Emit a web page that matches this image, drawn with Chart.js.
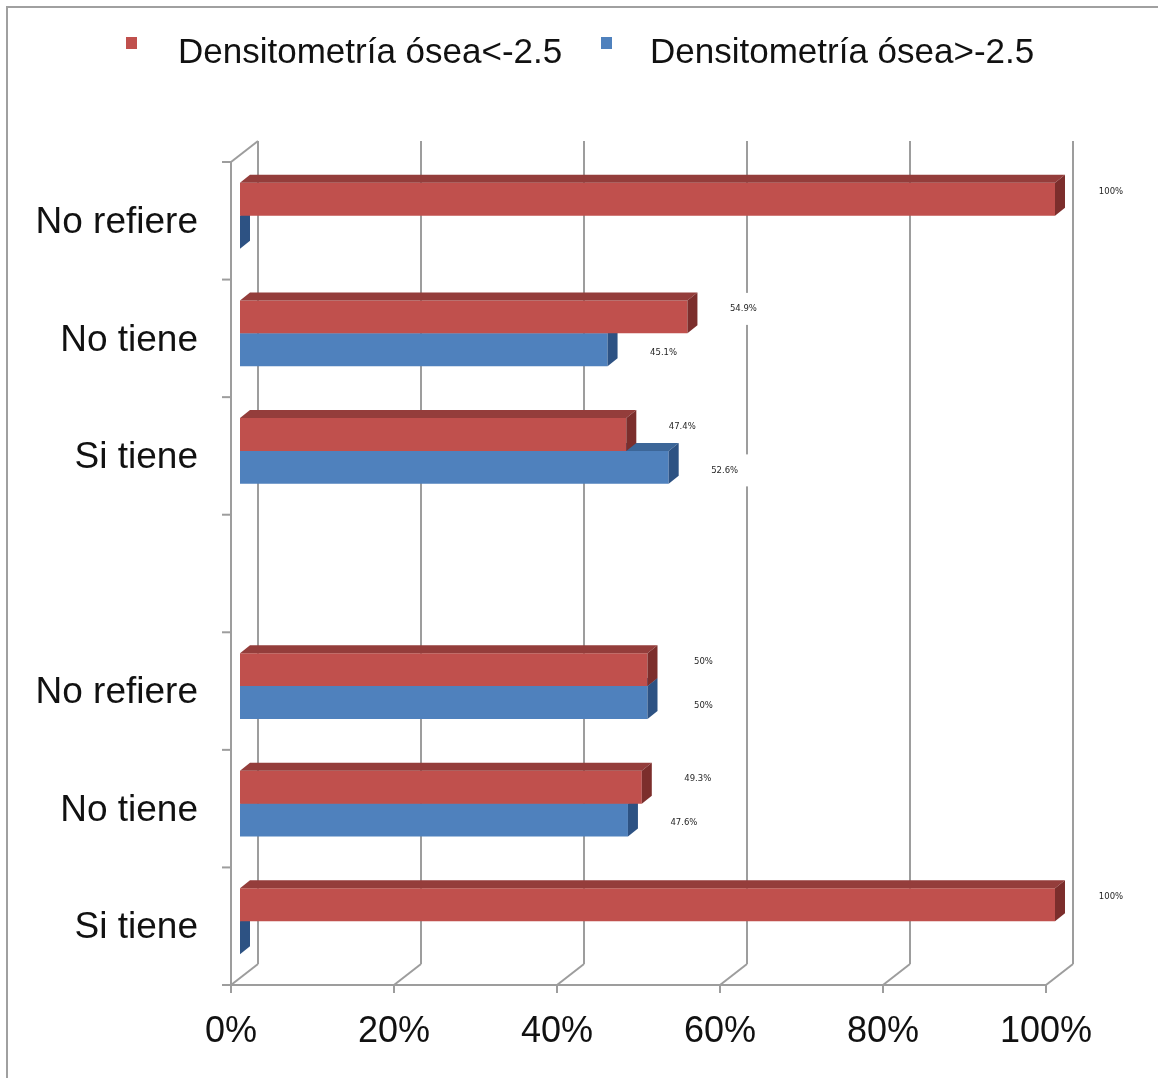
<!DOCTYPE html>
<html>
<head>
<meta charset="utf-8">
<script src="https://cdn.jsdelivr.net/npm/chart.js@4.4.1/dist/chart.umd.min.js"></script>
<style>
  html, body { margin: 0; padding: 0; background: #ffffff; overflow: hidden; }
  canvas { display: block; }
</style>
</head>
<body>
<canvas id="chart" width="1158" height="1078"></canvas>
<script>
// Categories (top to bottom); the empty entry leaves a gap between the two groups
const categories = ['No refiere', 'No tiene', 'Si tiene', '', 'No refiere', 'No tiene', 'Si tiene'];
const seriesNames = ['Densitometría ósea<-2.5', 'Densitometría ósea>-2.5'];
const lowDensity = [100, 54.9, 47.4, null, 50, 49.3, 100];
const highDensity = [0, 45.1, 52.6, null, 50, 47.6, 0];
const xTickValues = [0, 20, 40, 60, 80, 100];

// Face colours for the extruded bars: front, top, side
const palette = [
  { front: '#C0504D', top: '#943D3B', side: '#7C2E2C' },
  { front: '#4F81BD', top: '#3C6698', side: '#2D5283' }
];

// Projection offsets of the pseudo-3D box
const BAR_DX = 10, BAR_DY = -8;      // bar depth
const FRONT_DX = -9, FRONT_DY = 5;   // front edge of floor / left wall
const BACK_DX = 18, BACK_DY = -16;   // back wall
const GRID_COLOR = '#9d9d9d';

const pct = v => String(v) + '%';

function strokeLine(ctx, x1, y1, x2, y2) {
  ctx.beginPath();
  ctx.moveTo(x1, y1);
  ctx.lineTo(x2, y2);
  ctx.stroke();
}

// Walls, floor and grid of the 3D frame
const framePlugin = {
  id: 'frame3d',
  beforeDatasetsDraw(chart) {
    const { ctx, chartArea: a, scales: { x } } = chart;
    ctx.save();
    ctx.strokeStyle = GRID_COLOR;
    ctx.lineWidth = 2;
    const floorY = a.bottom + FRONT_DY;
    const backBottom = a.bottom + BACK_DY;
    const backTop = a.top + BACK_DY;
    xTickValues.forEach(v => {
      const px = x.getPixelForValue(v);
      const xb = px + BACK_DX, xf = px + FRONT_DX;
      strokeLine(ctx, xb, backTop, xb, backBottom);
      strokeLine(ctx, xb, backBottom, xf, floorY);
      strokeLine(ctx, xf, floorY, xf, floorY + 8);
    });
    const x0 = x.getPixelForValue(0) + FRONT_DX;
    const x100 = x.getPixelForValue(100) + FRONT_DX;
    // floor front edge
    strokeLine(ctx, x0 - 9, floorY, x100, floorY);
    // left wall
    strokeLine(ctx, x0, a.top + FRONT_DY, x0, floorY);
    strokeLine(ctx, x0, a.top + FRONT_DY, x.getPixelForValue(0) + BACK_DX, backTop);
    const step = (a.bottom - a.top) / categories.length;
    for (let k = 0; k <= categories.length; k++) {
      const yy = a.top + k * step + FRONT_DY;
      strokeLine(ctx, x0 - 9, yy, x0, yy);
    }
    ctx.restore();
  }
};

// Top and side faces of each bar
const barFacesPlugin = {
  id: 'barFaces',
  afterDatasetDraw(chart, args) {
    const { ctx } = chart;
    const colors = palette[args.index];
    ctx.save();
    args.meta.data.forEach((bar, i) => {
      const value = chart.data.datasets[args.index].data[i];
      if (value === null || value === undefined) return;
      const p = bar.getProps(['x', 'y', 'base', 'height'], true);
      const top = p.y - p.height / 2, bottom = p.y + p.height / 2;
      const x0 = p.base, x1 = p.x;
      ctx.fillStyle = colors.top;
      ctx.beginPath();
      ctx.moveTo(x0, top);
      ctx.lineTo(x0 + BAR_DX, top + BAR_DY);
      ctx.lineTo(x1 + BAR_DX, top + BAR_DY);
      ctx.lineTo(x1, top);
      ctx.closePath();
      ctx.fill();
      ctx.fillStyle = colors.side;
      ctx.beginPath();
      ctx.moveTo(x1, top);
      ctx.lineTo(x1 + BAR_DX, top + BAR_DY);
      ctx.lineTo(x1 + BAR_DX, bottom + BAR_DY);
      ctx.lineTo(x1, bottom);
      ctx.closePath();
      ctx.fill();
    });
    ctx.restore();
  }
};

// Value labels on white plates, legend and outer border
const labelsPlugin = {
  id: 'valueLabels',
  afterDatasetsDraw(chart) {
    const { ctx } = chart;
    ctx.save();
    ctx.font = '8.5px "DejaVu Sans"';
    ctx.textAlign = 'center';
    ctx.textBaseline = 'middle';
    chart.data.datasets.forEach((ds, di) => {
      const meta = chart.getDatasetMeta(di);
      meta.data.forEach((bar, i) => {
        const v = ds.data[i];
        if (!v) return;
        const p = bar.getProps(['x', 'y'], true);
        const cx = p.x + 56;
        const cy = p.y + (di === 0 ? -8 : 3);
        const text = pct(v);
        const w = ctx.measureText(text).width + 30;
        ctx.fillStyle = '#ffffff';
        ctx.fillRect(cx - w / 2, cy - 16, w, 32);
        ctx.fillStyle = '#262626';
        ctx.fillText(text, cx, cy);
      });
    });
    ctx.restore();
  },
  afterDraw(chart) {
    const { ctx } = chart;
    ctx.save();
    // outer border (partly outside the canvas)
    ctx.strokeStyle = '#a0a0a0';
    ctx.lineWidth = 2;
    ctx.beginPath();
    ctx.moveTo(7, 1078);
    ctx.lineTo(7, 7);
    ctx.lineTo(1158, 7);
    ctx.stroke();
    // legend
    const items = [{ box: 126, text: 178 }, { box: 601, text: 650 }];
    ctx.font = '35px "Liberation Sans", Arial, sans-serif';
    ctx.textAlign = 'left';
    ctx.textBaseline = 'alphabetic';
    chart.data.datasets.forEach((ds, di) => {
      ctx.fillStyle = palette[di].front;
      ctx.fillRect(items[di].box, 37, 11, 12);
      ctx.fillStyle = '#111111';
      ctx.fillText(ds.label, items[di].text, 63);
    });
    ctx.restore();
  }
};

new Chart(document.getElementById('chart'), {
  type: 'bar',
  data: {
    labels: categories,
    datasets: [
      { label: seriesNames[0], data: lowDensity, backgroundColor: palette[0].front, borderWidth: 0 },
      { label: seriesNames[1], data: highDensity, backgroundColor: palette[1].front, borderWidth: 0 }
    ]
  },
  options: {
    indexAxis: 'y',
    responsive: false,
    animation: false,
    devicePixelRatio: 1,
    categoryPercentage: 0.56,
    barPercentage: 1.0,
    layout: { padding: { left: 0, top: 157, right: 103, bottom: 0 } },
    plugins: { legend: { display: false }, tooltip: { enabled: false } },
    scales: {
      x: {
        min: 0, max: 100,
        afterFit: s => { s.height = 98; },
        afterBuildTicks: s => { s.ticks = xTickValues.map(v => ({ value: v })); },
        grid: { display: false, drawTicks: false },
        border: { display: false },
        ticks: {
          callback: v => pct(v),
          labelOffset: FRONT_DX,
          padding: 30,
          color: '#111111',
          font: { family: '"Liberation Sans", Arial, sans-serif', size: 36 }
        }
      },
      y: {
        afterFit: s => { s.width = 240; },
        grid: { display: false, drawTicks: false },
        border: { display: false },
        ticks: {
          labelOffset: 7,
          padding: 42,
          color: '#111111',
          font: { family: '"Liberation Sans", Arial, sans-serif', size: 37 }
        }
      }
    }
  },
  plugins: [framePlugin, barFacesPlugin, labelsPlugin]
});
</script>
</body>
</html>
